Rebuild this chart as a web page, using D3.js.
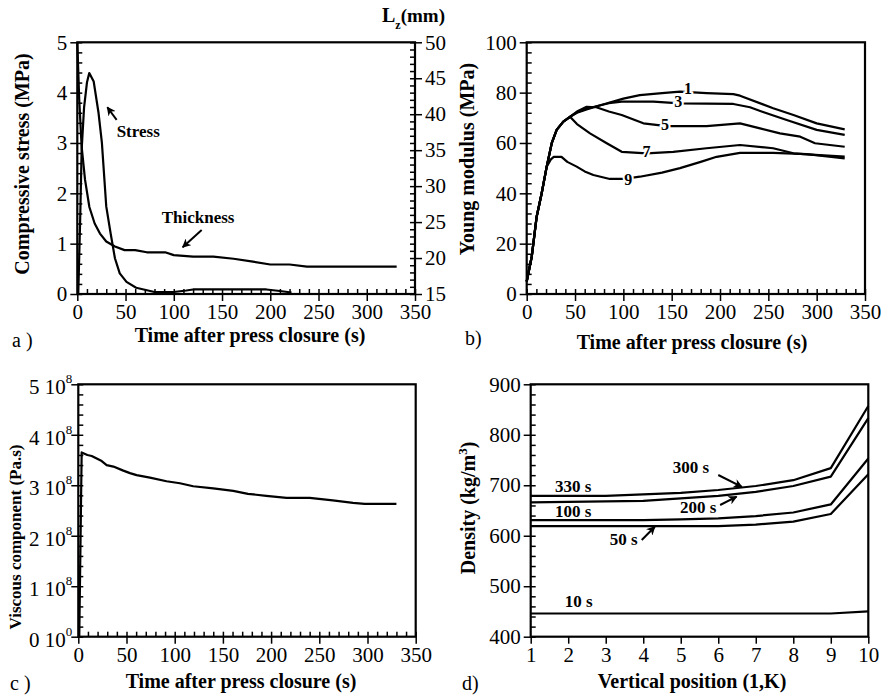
<!DOCTYPE html>
<html>
<head>
<meta charset="utf-8">
<script src="https://cdn.jsdelivr.net/npm/d3@7"></script>
<style>
body { margin: 0; background: #fff; }
svg text { font-family: "Liberation Serif", "Times New Roman", serif; fill: #000; }
.tick text { font-size: 21px; }
.tick line { stroke-width: 1.5; }
.title { font-size: 20px; font-weight: bold; }
.note { font-size: 17px; font-weight: bold; }
.curveLab { font-size: 16px; font-weight: bold; stroke: #fff; stroke-width: 4px; paint-order: stroke; }
.plab { font-size: 20px; }
.curve { fill: none; stroke: #000; stroke-width: 2.2; stroke-linejoin: round; }
.frame { fill: none; stroke: #000; stroke-width: 2.2; }
</style>
</head>
<body>
<svg id="fig" width="883" height="696"></svg>
<script>
/* a) compressive stress (MPa) and thickness Lz (mm) vs time (s) */
var stressT = [1, 3, 4.5, 7, 10, 12.4, 17, 22, 25.5, 30, 34.5, 39, 44, 51, 61, 80, 100, 113, 120, 196, 210, 222];
var stressV = [0, 1.5, 2.86, 3.7, 4.2, 4.39, 4.22, 3.6, 3.0, 1.74, 1.21, 0.71, 0.41, 0.24, 0.125, 0.04, 0.04, 0.07, 0.09, 0.09, 0.06, 0.03];
var thickT = [0, 2, 4.5, 8, 12.5, 18, 23.5, 30, 39, 49, 60, 72, 91, 100, 120, 141, 162, 182, 200, 220, 238, 331];
var thickV = [50, 42, 35.5, 30.9, 27.1, 24.8, 23.4, 22.3, 21.6, 21.1, 21.1, 20.8, 20.8, 20.4, 20.2, 20.2, 19.9, 19.5, 19.1, 19.1, 18.8, 18.8];

/* b) Young modulus (MPa) vs time (s), one curve per vertical position */
var riseE = [[0, 5], [5.2, 14.8], [10.3, 30.7], [15.5, 40], [20.7, 50.6]];
var riseE2 = [[25.9, 59.9], [31, 65.2], [37.9, 68.5], [44.8, 70.4]];
var young1 = [[52, 72], [62, 73.3], [72, 74.5], [85, 76], [100, 77.6], [117, 79], [140, 79.8], [158.6, 80.4], [186, 79.8], [213.8, 79.4], [220.7, 78.8], [255, 73.8], [276, 71.1], [300, 67.8], [329, 65.4]];
var young3 = [[52, 72.2], [62, 73.6], [72, 74.6], [85, 75.8], [98.3, 76.4], [131, 76.4], [158.6, 75.7], [213.8, 75.5], [231, 74.2], [248.3, 71.8], [269, 69.1], [300, 65.2], [329, 63.2]];
var young5 = [[52, 72.5], [62, 74.4], [72, 74.2], [85, 72.5], [98.3, 71.1], [120.7, 67.8], [144.8, 66.7], [186, 66.7], [220.7, 67.8], [241.4, 65.8], [262, 63.8], [283, 62.5], [298.3, 59.9], [329, 58.5]];
var young7 = [[52, 67.5], [65.5, 63.8], [82.8, 59.9], [98.3, 56.5], [124, 55.9], [151.6, 56.5], [186, 57.9], [220.7, 59.2], [255, 57.9], [276, 55.9], [290, 55.5], [329, 54.6]];
var young9 = [[25, 53.5], [28, 54.5], [36, 54.5], [42, 52.5], [51.7, 50.6], [60, 48.7], [69, 47.3], [86, 45.7], [100, 45.7], [117, 46.6], [140, 48.2], [158.6, 50], [180, 52.5], [196.5, 54.5], [220.7, 56.1], [255, 56.1], [289.7, 55.6], [329, 53.9]];
var youngNames = ["1", "3", "5", "7", "9"];

/* c) viscous component (10^8 Pa.s) vs time (s) */
var viscT = [1, 3.5, 9.4, 13.9, 19.1, 24.3, 29.4, 36.4, 46.7, 53.6, 60.5, 74.3, 91.5, 105.4, 119.2, 140, 160.7, 176, 195, 216, 240, 264, 285, 297, 330];
var viscV = [0, 3.65, 3.6, 3.58, 3.53, 3.48, 3.40, 3.37, 3.29, 3.24, 3.2, 3.15, 3.08, 3.04, 2.98, 2.94, 2.89, 2.83, 2.79, 2.75, 2.75, 2.70, 2.65, 2.63, 2.63];

/* d) density (kg/m3) vs vertical position */
var positions = [1, 2, 3, 4, 5, 6, 7, 8, 9, 10];
var dens10 = [446, 446, 446, 446, 446, 446, 446, 446, 446, 450];
var dens50 = [619, 619, 619, 619, 619, 619, 622, 628, 643, 722];
var dens100 = [631, 631, 631, 631, 632.5, 634.5, 639, 646, 662, 753];
var dens200 = [666, 667, 668, 669, 674, 679, 687, 698.5, 717, 833];
var dens330 = [679, 679, 679, 682, 685, 690.6, 698.5, 710, 734, 857];

var timeMajor = d3.range(0, 351, 50);
var timeMinor = d3.range(0, 351, 10);

var fig = d3.select("#fig");

// arrow head used by the annotations
fig.append("defs").append("svg:marker")
    .attr("id", "arrowHead")
    .attr("viewBox", "0 0 10 10")
    .attr("refX", "9")
    .attr("refY", "5")
    .attr("markerWidth", "4.5")
    .attr("markerHeight", "4.5")
    .attr("orient", "auto")
    .append("svg:path")
    .attr("d", "M0,0 L10,5 L0,10 L3,5 Z");

/*
draws one axis: minor ticks inside the frame, major ticks + labels outside
side: "left" | "right" | "bottom"
*/
function drawAxis(g, scale, side, pos, majors, minors, fmt){
    var make = side == "left" ? d3.axisLeft : (side == "right" ? d3.axisRight : d3.axisBottom);
    var tr = side == "bottom" ? "translate(0," + pos + ")" : "translate(" + pos + ",0)";
    if(minors){
        g.append("g").attr("transform", tr)
            .call(make(scale).tickValues(minors).tickSize(-5).tickSizeOuter(0).tickFormat(""))
            .call(function(s){ s.select(".domain").remove(); });
    }
    return g.append("g").attr("transform", tr)
        .call(make(scale).tickValues(majors).tickSize(7).tickSizeOuter(0).tickPadding(3).tickFormat(fmt))
        .call(function(s){ s.select(".domain").remove(); });
}

function frame(g, x, y){
    g.append("rect").attr("class", "frame")
        .attr("x", x.range()[0]).attr("y", y.range()[1])
        .attr("width", x.range()[1] - x.range()[0])
        .attr("height", y.range()[0] - y.range()[1]);
}

function arrow(g, x1, y1, x2, y2){
    g.append("line")
        .attr("x1", x1).attr("y1", y1).attr("x2", x2).attr("y2", y2)
        .style("stroke", "#000").style("stroke-width", "2")
        .style("marker-end", "url(#arrowHead)");
}

function zip(a, b){ return a.map(function(v, i){ return [v, b[i]]; }); }

/* ---------- a ---------- */
var gA = fig.append("g");
var xA = d3.scaleLinear().domain([0, 350]).range([77.3, 415]);
var yA = d3.scaleLinear().domain([0, 5]).range([294, 42.3]);
var yA2 = d3.scaleLinear().domain([15, 50]).range([294, 42.3]);
var lineA = d3.line().x(function(d){ return xA(d[0]); }).y(function(d){ return yA(d[1]); });
var lineA2 = d3.line().x(function(d){ return xA(d[0]); }).y(function(d){ return yA2(d[1]); });

gA.append("path").attr("class", "curve").attr("d", lineA(zip(stressT, stressV)));
gA.append("path").attr("class", "curve").attr("d", lineA2(zip(thickT, thickV)));
drawAxis(gA, xA, "bottom", 294, timeMajor, timeMinor, d3.format("d"));
drawAxis(gA, yA, "left", 77.3, d3.range(0, 6, 1), d3.range(0, 5.01, 0.2), d3.format("d"));
drawAxis(gA, yA2, "right", 415, d3.range(15, 51, 5), d3.range(15, 51, 1), d3.format("d"));
frame(gA, xA, yA);

gA.append("text").attr("class", "note").attr("x", xA(40.8)).attr("y", yA(3.11)).text("Stress");
arrow(gA, xA(40.8), yA(3.46), xA(31.1), yA(3.71));
gA.append("text").attr("class", "note").attr("x", xA(87.5)).attr("y", yA(1.42)).text("Thickness");
arrow(gA, xA(128.9), yA(1.27), xA(109.2), yA(0.93));

gA.append("text").attr("class", "title").attr("text-anchor", "middle")
    .attr("x", 250).attr("y", 342).text("Time after press closure (s)");
gA.append("text").attr("class", "title").attr("text-anchor", "middle")
    .attr("transform", "translate(29,164) rotate(-90)").text("Compressive stress (MPa)");
var lz = gA.append("text").attr("class", "title").attr("x", 382).attr("y", 22);
lz.append("tspan").text("L");
lz.append("tspan").attr("dy", 7).style("font-size", "12px").text("z");
lz.append("tspan").attr("dy", -7).style("font-size", "19px").text("(mm)");
gA.append("text").attr("class", "plab").attr("x", 12).attr("y", 347).text("a )");

/* ---------- b ---------- */
var gB = fig.append("g");
var xB = d3.scaleLinear().domain([0, 350]).range([526.7, 865]);
var yB = d3.scaleLinear().domain([0, 100]).range([294, 42.3]);
var lineB = d3.line().x(function(d){ return xB(d[0]); }).y(function(d){ return yB(d[1]); });

var youngCurves = [
    riseE.concat(riseE2, young1),
    riseE.concat(riseE2, young3),
    riseE.concat(riseE2, young5),
    riseE.concat(riseE2, young7),
    riseE.concat(young9)
];
gB.selectAll("path.curve").data(youngCurves).enter().append("path")
    .attr("class", "curve").attr("d", lineB);

// curve numbers sitting on the lines
var youngLabelAt = [[167, 81.7], [156.8, 76.4], [143, 67.5], [124, 56.5], [105, 45.7]];
gB.selectAll("text.curveLab").data(youngNames).enter().append("text")
    .attr("class", "curveLab").attr("text-anchor", "middle").attr("dy", "0.35em")
    .attr("x", function(d, i){ return xB(youngLabelAt[i][0]); })
    .attr("y", function(d, i){ return yB(youngLabelAt[i][1]); })
    .text(function(d){ return d; });

drawAxis(gB, xB, "bottom", 294, timeMajor, timeMinor, d3.format("d"));
drawAxis(gB, yB, "left", 526.7, d3.range(0, 101, 20), d3.range(0, 101, 4), d3.format("d"));
frame(gB, xB, yB);

gB.append("text").attr("class", "title").attr("text-anchor", "middle")
    .attr("x", 692).attr("y", 349).text("Time after press closure (s)");
gB.append("text").attr("class", "title").attr("text-anchor", "middle")
    .attr("transform", "translate(474,159) rotate(-90)").text("Young modulus (MPa)");
gB.append("text").attr("class", "plab").attr("x", 465).attr("y", 345).text("b)");

/* ---------- c ---------- */
var gC = fig.append("g");
var xC = d3.scaleLinear().domain([0, 350]).range([78.3, 415.7]);
var yC = d3.scaleLinear().domain([0, 5]).range([636.7, 384.3]);
var lineC = d3.line().x(function(d){ return xC(d[0]); }).y(function(d){ return yC(d[1]); });

gC.append("path").attr("class", "curve").attr("d", lineC(zip(viscT, viscV)));
drawAxis(gC, xC, "bottom", 636.7, timeMajor, timeMinor, d3.format("d"));
var axC = drawAxis(gC, yC, "left", 78.3, d3.range(0, 6, 1), d3.range(0, 5.01, 0.2), function(){ return ""; });
// "n 10^8" tick labels
axC.selectAll(".tick").each(function(d){
    var t = d3.select(this).append("text")
        .attr("x", -6).attr("dy", "0.45em").attr("text-anchor", "end")
        .style("font-size", "21px");
    t.append("tspan").text(d + " 10");
    t.append("tspan").attr("dy", -11).style("font-size", "13px").text(d == 0 ? "0" : "8");
});
frame(gC, xC, yC);

gC.append("text").attr("class", "title").attr("text-anchor", "middle")
    .attr("x", 241).attr("y", 688).text("Time after press closure (s)");
gC.append("text").attr("class", "title").attr("text-anchor", "middle").style("font-size", "17px")
    .attr("transform", "translate(21,537) rotate(-90)").text("Viscous component (Pa.s)");
gC.append("text").attr("class", "plab").attr("x", 10).attr("y", 690).text("c )");

/* ---------- d ---------- */
var gD = fig.append("g");
var xD = d3.scaleLinear().domain([1, 10]).range([530.7, 868.3]);
var yD = d3.scaleLinear().domain([400, 900]).range([636.7, 384.3]);
var lineD = d3.line().x(function(d){ return xD(d[0]); }).y(function(d){ return yD(d[1]); });

var densCurves = [dens10, dens50, dens100, dens200, dens330];
gD.selectAll("path.curve").data(densCurves).enter().append("path")
    .attr("class", "curve").attr("d", function(d){ return lineD(zip(positions, d)); });

drawAxis(gD, xD, "bottom", 636.7, positions, null, d3.format("d"));
drawAxis(gD, yD, "left", 530.7, d3.range(400, 901, 100), d3.range(400, 901, 20), d3.format("d"));
frame(gD, xD, yD);

var densNotes = [["330 s", 1.65, 687.2], ["100 s", 1.65, 637], ["10 s", 1.91, 458.8],
                 ["50 s", 3.11, 581.6], ["200 s", 4.98, 645], ["300 s", 4.79, 724.2]];
gD.selectAll("text.note").data(densNotes).enter().append("text")
    .attr("class", "note")
    .attr("x", function(d){ return xD(d[1]); })
    .attr("y", function(d){ return yD(d[2]); })
    .text(function(d){ return d[0]; });
arrow(gD, xD(6.0), yD(720.3), xD(6.63), yD(697));
arrow(gD, xD(6.05), yD(660.9), xD(6.49), yD(677.3));
arrow(gD, xD(3.96), yD(591.6), xD(4.31), yD(617.9));

gD.append("text").attr("class", "title").attr("text-anchor", "middle")
    .attr("x", 692).attr("y", 688).text("Vertical position (1,K)");
var dt = gD.append("text").attr("class", "title").attr("text-anchor", "middle")
    .attr("transform", "translate(475,508) rotate(-90)");
dt.append("tspan").text("Density (kg/m");
dt.append("tspan").attr("dy", -8).style("font-size", "13px").text("3");
dt.append("tspan").attr("dy", 8).text(")");
gD.append("text").attr("class", "plab").attr("x", 462).attr("y", 690).text("d)");
</script>
</body>
</html>
